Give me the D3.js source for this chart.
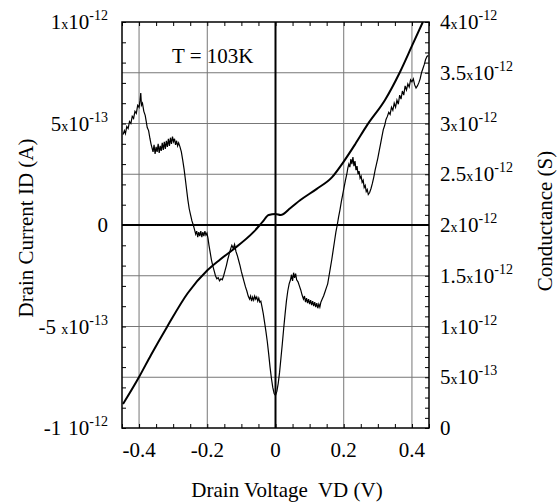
<!DOCTYPE html>
<html lang="en">
<head>
<meta charset="UTF-8">
<title>Drain current and conductance vs drain voltage</title>
<script src="https://d3js.org/d3.v7.min.js"></script>
<style>
    body { margin: 0; background: white; }
    .grid { stroke: #777; stroke-width: 1; }
    .zero { stroke: #000; stroke-width: 2; }
    .frame { fill: none; stroke: #000; stroke-width: 1.5; }
    .ticks line { stroke: #000; stroke-width: 1; }
    .ticks path { display: none; }
</style>
</head>
<body>
<svg id="chart" width="557" height="504"></svg>
<script>
// I-V curve (V, A in units of 1e-12)
const ivVolt = [-0.447, -0.400, -0.365, -0.318, -0.257, -0.199, -0.164, -0.126, -0.064, -0.038, -0.020, 0.000, 0.015,
                0.044, 0.073, 0.120, 0.166, 0.199, 0.234, 0.269, 0.321, 0.365, 0.400, 0.432];
const ivCurr = [-0.882, -0.749, -0.640, -0.502, -0.335, -0.222, -0.172, -0.123, -0.034, 0.015, 0.049, 0.054, 0.049,
                0.084, 0.123, 0.177, 0.236, 0.310, 0.399, 0.493, 0.616, 0.754, 0.882, 1.000];

// conductance curve (V, S in units of 1e-12)
const gVolt = [-0.447, -0.443, -0.440, -0.436, -0.432, -0.428, -0.424, -0.420, -0.416, -0.412, -0.408, -0.404, -0.400,
    -0.397, -0.395, -0.393, -0.390, -0.386, -0.382, -0.379, -0.376, -0.372, -0.368, -0.365, -0.362, -0.359, -0.356,
    -0.353, -0.350, -0.347, -0.344, -0.341, -0.338, -0.335, -0.332, -0.329, -0.326, -0.323, -0.320, -0.317, -0.314,
    -0.311, -0.308, -0.305, -0.302, -0.299, -0.296, -0.293, -0.290, -0.287, -0.284, -0.280, -0.276, -0.272, -0.268,
    -0.265, -0.261, -0.257, -0.253, -0.249, -0.245, -0.241, -0.237, -0.234, -0.231, -0.228, -0.225, -0.222, -0.219,
    -0.216, -0.213, -0.210, -0.207, -0.204, -0.201, -0.198, -0.195, -0.192, -0.188, -0.184, -0.180, -0.176, -0.172,
    -0.168, -0.164, -0.160, -0.156, -0.152, -0.148, -0.144, -0.140, -0.136, -0.132, -0.128, -0.124, -0.120, -0.116,
    -0.112, -0.108, -0.104, -0.100, -0.096, -0.092, -0.088, -0.084, -0.080, -0.076, -0.073, -0.070, -0.067, -0.064,
    -0.061, -0.058, -0.055, -0.052, -0.049, -0.046, -0.043, -0.040, -0.036, -0.032, -0.028, -0.024, -0.020, -0.016,
    -0.012, -0.008, -0.004, 0.000, 0.004, 0.008, 0.012, 0.016, 0.020, 0.024, 0.028, 0.032, 0.036, 0.040, 0.044, 0.047,
    0.050, 0.053, 0.056, 0.059, 0.062, 0.066, 0.070, 0.074, 0.078, 0.082, 0.085, 0.088, 0.091, 0.094, 0.097, 0.100,
    0.103, 0.106, 0.109, 0.112, 0.115, 0.118, 0.121, 0.124, 0.127, 0.130, 0.133, 0.137, 0.141, 0.145, 0.149, 0.153,
    0.157, 0.161, 0.165, 0.169, 0.173, 0.177, 0.181, 0.185, 0.189, 0.193, 0.197, 0.201, 0.205, 0.209, 0.212, 0.215,
    0.218, 0.221, 0.224, 0.227, 0.230, 0.233, 0.236, 0.239, 0.242, 0.245, 0.248, 0.251, 0.254, 0.257, 0.260, 0.263,
    0.266, 0.269, 0.272, 0.276, 0.280, 0.284, 0.288, 0.292, 0.296, 0.300, 0.304, 0.308, 0.312, 0.316, 0.320, 0.324,
    0.328, 0.332, 0.336, 0.340, 0.344, 0.348, 0.352, 0.356, 0.360, 0.364, 0.368, 0.372, 0.376, 0.380, 0.384, 0.388,
    0.392, 0.396, 0.400, 0.404, 0.408, 0.412, 0.416, 0.420, 0.424, 0.428, 0.432, 0.436, 0.440, 0.444, 0.448];
const gCond = [2.89, 2.93, 2.90, 2.97, 2.95, 3.02, 3.00, 3.07, 3.05, 3.12, 3.10, 3.18, 3.16,
    3.23, 3.30, 3.18, 3.20, 3.12, 3.08, 3.02, 2.96, 2.93, 2.85, 2.80, 2.76, 2.72, 2.79,
    2.70, 2.77, 2.72, 2.80, 2.71, 2.78, 2.73, 2.81, 2.74, 2.82, 2.75, 2.83, 2.77, 2.85,
    2.78, 2.86, 2.80, 2.87, 2.82, 2.85, 2.79, 2.83, 2.78, 2.81, 2.77, 2.72, 2.64, 2.55,
    2.47, 2.36, 2.25, 2.16, 2.10, 2.04, 2.00, 1.95, 1.91, 1.94, 1.88, 1.93, 1.89, 1.94,
    1.88, 1.93, 1.89, 1.94, 1.90, 1.92, 1.87, 1.80, 1.74, 1.66, 1.60, 1.55, 1.50, 1.47,
    1.48, 1.45, 1.47, 1.46, 1.50, 1.55, 1.60, 1.66, 1.71, 1.76, 1.80, 1.77, 1.81, 1.74,
    1.70, 1.65, 1.60, 1.54, 1.49, 1.44, 1.39, 1.35, 1.30, 1.27, 1.30, 1.25, 1.29, 1.26,
    1.30, 1.27, 1.29, 1.25, 1.28, 1.24, 1.25, 1.20, 1.13, 1.04, 0.95, 0.85, 0.73, 0.60,
    0.49, 0.40, 0.34, 0.32, 0.36, 0.44, 0.55, 0.69, 0.83, 0.98, 1.12, 1.25, 1.35, 1.42, 1.46, 1.51,
    1.45, 1.53, 1.48, 1.52, 1.46, 1.44, 1.40, 1.36, 1.31, 1.27, 1.30, 1.24, 1.28, 1.23, 1.27, 1.22,
    1.26, 1.21, 1.25, 1.20, 1.24, 1.19, 1.23, 1.18, 1.22, 1.19, 1.24, 1.27, 1.30, 1.34, 1.38, 1.42,
    1.50, 1.58, 1.66, 1.75, 1.84, 1.93, 2.00, 2.08, 2.15, 2.23, 2.30, 2.37, 2.44, 2.50, 2.56, 2.60,
    2.57, 2.65, 2.60, 2.67, 2.58, 2.63, 2.54, 2.58, 2.50, 2.53, 2.46, 2.48, 2.42, 2.44, 2.37, 2.39,
    2.33, 2.35, 2.30, 2.32, 2.36, 2.41, 2.47, 2.54, 2.60, 2.66, 2.73, 2.80, 2.87, 2.94, 2.98, 3.04,
    3.07, 3.11, 3.09, 3.16, 3.13, 3.20, 3.16, 3.23, 3.19, 3.28, 3.24, 3.32, 3.28, 3.37, 3.33, 3.39,
    3.36, 3.43, 3.41, 3.44, 3.38, 3.35, 3.37, 3.40, 3.44, 3.50, 3.54, 3.58, 3.63, 3.66, 3.67];

// tick labels
const xTickVals = [-0.4, -0.2, 0, 0.2, 0.4];
const xTickLabels = ["-0.4", "-0.2", "0", "0.2", "0.4"];
const leftTickVals = [1, 0.5, 0, -0.5, -1];
const leftTickLabels = ["1x10^-12", "5x10^-13", "0", "-5 x10^-13", "-1 10^-12"];
const rightTickVals = [4, 3.5, 3, 2.5, 2, 1.5, 1, 0.5, 0];
const rightTickLabels = ["4x10^-12", "3.5x10^-12", "3x10^-12", "2.5x10^-12", "2x10^-12",
                         "1.5x10^-12", "1x10^-12", "5x10^-13", "0"];

const FONT = "font-family: 'Liberation Serif', 'DejaVu Serif', 'Times New Roman', serif";

const svg = d3.select("#chart");
const L = 122, R = 429, T = 22, B = 428;

const x = d3.scaleLinear().domain([-0.45, 0.45]).range([L, R]);
const yL = d3.scaleLinear().domain([-1, 1]).range([B, T]);
const yR = d3.scaleLinear().domain([0, 4]).range([B, T]);

// grid
const gridY = [0.5, 1, 1.5, 2.5, 3, 3.5];
svg.append("g").selectAll("line").data(gridY).join("line")
    .attr("class", "grid")
    .attr("x1", L).attr("x2", R)
    .attr("y1", d => yR(d)).attr("y2", d => yR(d));
svg.append("g").selectAll("line").data([-0.4, -0.2, 0.2, 0.4]).join("line")
    .attr("class", "grid")
    .attr("x1", d => x(d)).attr("x2", d => x(d))
    .attr("y1", T).attr("y2", B);
svg.append("line").attr("class", "zero")
    .attr("x1", L).attr("x2", R).attr("y1", yL(0)).attr("y2", yL(0));
svg.append("line").attr("class", "zero")
    .attr("x1", x(0)).attr("x2", x(0)).attr("y1", T).attr("y2", B);

// inward minor ticks
const tk = 4;
svg.append("g").attr("class", "ticks").attr("transform", `translate(${L},0)`)
    .call(d3.axisLeft(yL).tickValues(d3.range(-10, 11).map(d => d / 10)).tickSizeInner(-tk).tickSizeOuter(0).tickFormat(""));
svg.append("g").attr("class", "ticks").attr("transform", `translate(${R},0)`)
    .call(d3.axisRight(yR).tickValues(d3.range(0, 41).map(d => d / 10)).tickSizeInner(-tk).tickSizeOuter(0).tickFormat(""));
svg.append("g").attr("class", "ticks").attr("transform", `translate(0,${B})`)
    .call(d3.axisBottom(x).tickValues(d3.range(-9, 10).map(d => d * 0.05)).tickSizeInner(-tk).tickSizeOuter(0).tickFormat(""));
svg.append("g").attr("class", "ticks").attr("transform", `translate(0,${T})`)
    .call(d3.axisTop(x).tickValues(d3.range(-9, 10).map(d => d * 0.05)).tickSizeInner(-tk).tickSizeOuter(0).tickFormat(""));

svg.append("rect").attr("class", "frame")
    .attr("x", L).attr("y", T).attr("width", R - L).attr("height", B - T);

// curves
svg.append("clipPath").attr("id", "plot")
    .append("rect").attr("x", L).attr("y", T).attr("width", R - L).attr("height", B - T);

const ivLine = d3.line().curve(d3.curveMonotoneX).x(d => x(d[0])).y(d => yL(d[1]));
svg.append("path")
    .attr("clip-path", "url(#plot)")
    .attr("d", ivLine(d3.zip(ivVolt, ivCurr)))
    .attr("fill", "none").attr("stroke", "#000").attr("stroke-width", 2);

const gLine = d3.line().x(d => x(d[0])).y(d => yR(d[1]));
svg.append("path")
    .attr("clip-path", "url(#plot)")
    .attr("d", gLine(d3.zip(gVolt, gCond)))
    .attr("fill", "none").attr("stroke", "#000").attr("stroke-width", 1.2);

// labels with superscripts
function sciLabel(sel, s) {
    const m = s.match(/^(.*?)(x| )?10\^(.*)$/);
    if (!m) { sel.append("tspan").attr("font-size", 21).text(s); return; }
    let mant = m[1], sep = m[2] || "";
    let sp = "";
    if (mant.endsWith(" ")) { mant = mant.trim(); sp = "\u00a0"; }
    sel.append("tspan").attr("font-size", 21).text(mant + sp);
    sel.append("tspan").attr("font-size", 14).text(sep === " " ? "\u00a0\u00a0" : sep);
    sel.append("tspan").attr("font-size", 21).text("10");
    sel.append("tspan").attr("font-size", 14).attr("dy", -9).text(m[3]);
}

function label(xp, yp, anchor) {
    return svg.append("text").attr("x", xp).attr("y", yp).attr("text-anchor", anchor).attr("style", FONT);
}

leftTickVals.forEach((v, i) => sciLabel(label(108, yL(v) + 7, "end"), leftTickLabels[i]));
rightTickVals.forEach((v, i) => sciLabel(label(440, yR(v) + 7, "start"), rightTickLabels[i]));
xTickVals.forEach((v, i) => label(x(v), 457, "middle").attr("font-size", 21).text(xTickLabels[i]));

label(287, 497, "middle").attr("font-size", 21).attr("xml:space", "preserve").text("Drain Voltage  VD (V)");
label(0, 0, "middle").attr("transform", "translate(33,228) rotate(-90)")
    .attr("font-size", 21).text("Drain Current ID (A)");
label(0, 0, "middle").attr("transform", "translate(552,221) rotate(-90)")
    .attr("font-size", 21).text("Conductance (S)");
label(172, 63, "start").attr("font-size", 21).text("T = 103K");
</script>
</body>
</html>
